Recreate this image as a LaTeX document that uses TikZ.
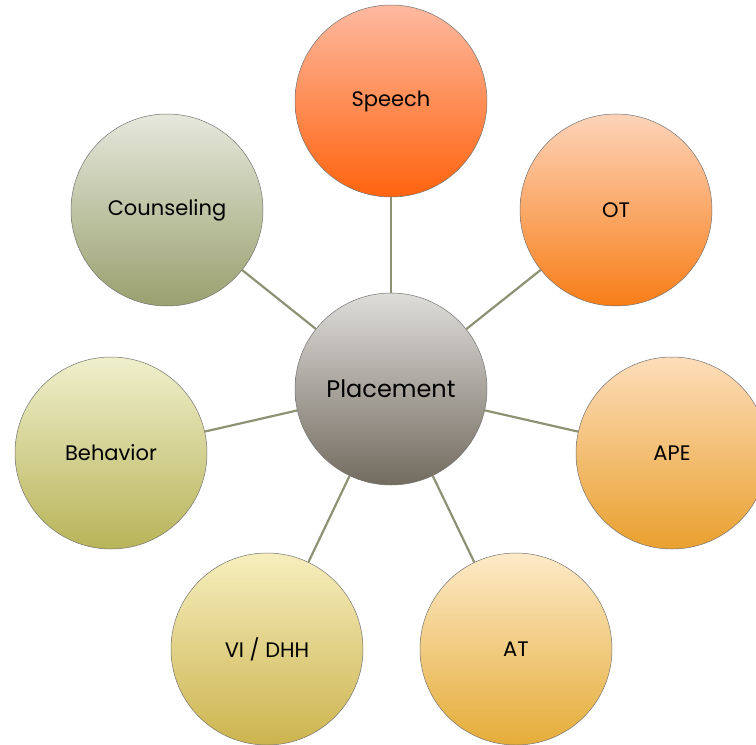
\documentclass[tikz,border=0pt]{standalone}
\usepackage{fontspec}
\setmainfont{Poppins}
\usetikzlibrary{calc}

\definecolor{linkcol}{HTML}{8E9275}
\tikzset{
  bubble/.style={circle, draw=black!55, line width=0.5pt, minimum size=192pt, inner sep=0pt, font=\fontsize{21}{24}\selectfont},
  link/.style={draw=linkcol, line width=2.2pt}
}

\begin{document}
\begin{tikzpicture}[x=1pt, y=-1pt]
			%%%%% START %%%%%
			
			\useasboundingbox (0, 0) rectangle (756, 745);
			
			\node[bubble, top color={rgb,255:red,222;green,221;blue,218}, bottom color={rgb,255:red,115;green,107;blue,95}, font=\fontsize{24}{28}\selectfont] (placement) at (391, 389) {Placement};
			
			\node[bubble, top color={rgb,255:red,254;green,185;blue,160}, bottom color={rgb,255:red,255;green,99;blue,14}] (speech) at (391, 101) {Speech};
			\node[bubble, top color={rgb,255:red,253;green,211;blue,185}, bottom color={rgb,255:red,248;green,126;blue,24}] (ot) at (616, 210) {OT};
			\node[bubble, top color={rgb,255:red,253;green,221;blue,186}, bottom color={rgb,255:red,233;green,160;blue,46}] (ape) at (672, 453) {APE};
			\node[bubble, top color={rgb,255:red,253;green,234;blue,200}, bottom color={rgb,255:red,229;green,172;blue,56}] (at) at (516, 649) {AT};
			\node[bubble, top color={rgb,255:red,246;green,238;blue,190}, bottom color={rgb,255:red,204;green,180;blue,78}] (vidhh) at (267, 649) {VI / DHH};
			\node[bubble, top color={rgb,255:red,239;green,239;blue,204}, bottom color={rgb,255:red,184;green,180;blue,88}] (behavior) at (111, 453) {Behavior};
			\node[bubble, top color={rgb,255:red,229;green,232;blue,220}, bottom color={rgb,255:red,154;green,160;blue,110}] (counseling) at (167, 210) {Counseling};
			
			\draw[link] (placement) -- (speech);
			\draw[link] (placement) -- (ot);
			\draw[link] (placement) -- (ape);
			\draw[link] (placement) -- (at);
			\draw[link] (placement) -- (vidhh);
			\draw[link] (placement) -- (behavior);
			\draw[link] (placement) -- (counseling);
			
			%%%%% END %%%%%
\end{tikzpicture}
\end{document}
